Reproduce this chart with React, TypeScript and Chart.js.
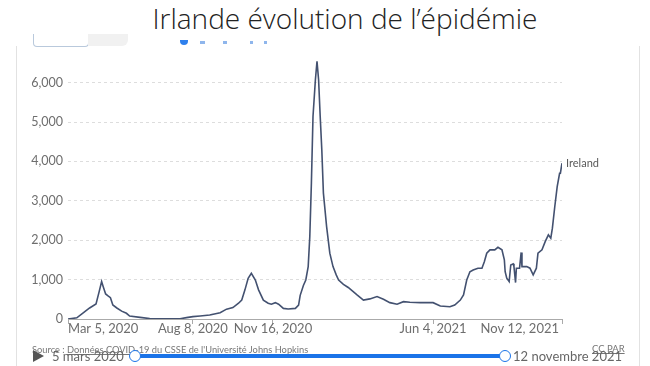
import React, { useEffect, useRef } from "react";
import { Chart, registerables } from "chart.js";

Chart.register(...registerables);

// Days since 5 March 2020
const dayOffsets = [
  0, 11, 21, 27, 35, 39, 42, 44, 47, 50, 53, 56, 61, 67, 73, 77, 90, 102, 121, 140,
  148, 156, 165, 177, 190, 198, 206, 213, 217, 221, 225, 229, 234, 238, 244, 250, 254, 259, 263, 269,
  275, 284, 288, 290, 294, 297, 300, 302, 304, 306, 309, 311, 313, 315, 317, 319, 323, 327, 331, 335,
  338, 344, 350, 361, 369, 377, 386, 394, 402, 411, 419, 427, 440, 456, 465, 477, 483, 490, 494, 498,
  502, 506, 512, 517, 520, 523, 527, 533, 537, 542, 545, 546, 548, 551, 553, 556, 557, 559, 560, 564,
  566, 567, 573, 577, 581, 585, 587, 592, 596, 600, 603, 605, 608, 611, 614, 615, 617,
];

// Daily new confirmed cases (rolling average), Ireland
const cases = [
  0, 30, 190, 280, 380, 700, 950, 820, 635, 585, 540, 355, 280, 200, 145, 75, 42, 10, 5, 5,
  35, 60, 75, 100, 160, 250, 290, 400, 480, 740, 1035, 1160, 990, 740, 480, 400, 375, 415, 375, 270,
  255, 270, 355, 600, 850, 990, 1330, 2090, 3450, 5140, 6075, 6540, 6075, 5140, 4295, 3195, 2345, 1670, 1330, 1120,
  990, 880, 800, 610, 480, 510, 570, 500, 415, 375, 440, 425, 415, 415, 330, 310, 355, 480, 610, 990,
  1200, 1245, 1290, 1290, 1455, 1670, 1755, 1755, 1820, 1755, 1500, 1200, 1035, 950, 1370, 1400, 1330, 925, 1290, 1290,
  1690, 1330, 1330, 1290, 1120, 1290, 1670, 1755, 1965, 2135, 2050, 2305, 2855, 3360, 3700, 3700, 3955,
];

const xTickDays = [0, 156, 256, 456, 617];
const xTickLabels = ["Mar 5, 2020", "Aug 8, 2020", "Nov 16, 2020", "Jun 4, 2021", "Nov 12, 2021"];
const yTickValues = [0, 1000, 2000, 3000, 4000, 5000, 6000];
const seriesName = "Ireland";

const TEXT = "#6e6e6e";
const LINE = "#435170";
const FONT = "Lato, 'Open Sans', sans-serif";

export default function App() {
  const ref = useRef<HTMLCanvasElement | null>(null);

  useEffect(() => {
    document.body.style.margin = "0";
    const canvas = ref.current;
    if (!canvas) return;

    const labelPlugin = {
      id: "owidLabels",
      afterDraw(chart: any) {
        const ctx = chart.ctx;
        const xs = chart.scales.x;
        const ys = chart.scales.y;
        ctx.save();
        ctx.fillStyle = TEXT;
        ctx.font = `13px ${FONT}`;
        ctx.textBaseline = "top";
        xTickDays.forEach((d, i) => {
          const px = xs.getPixelForValue(d);
          if (i === 0) {
            ctx.textAlign = "left";
            ctx.fillText(xTickLabels[i], px, 322);
          } else if (i === xTickDays.length - 1) {
            ctx.textAlign = "right";
            ctx.fillText(xTickLabels[i], px - 3, 322);
          } else {
            ctx.textAlign = "center";
            ctx.fillText(xTickLabels[i], px, 322);
          }
        });
        const last = dayOffsets.length - 1;
        const lx = xs.getPixelForValue(dayOffsets[last]);
        const ly = ys.getPixelForValue(cases[last]);
        ctx.font = `11px ${FONT}`;
        ctx.fillStyle = "#5a5a5a";
        ctx.textAlign = "left";
        ctx.textBaseline = "middle";
        ctx.fillText(seriesName, lx + 4, ly);
        ctx.restore();
      },
    };

    const chart = new Chart(canvas, {
      type: "line",
      data: {
        datasets: [
          {
            label: seriesName,
            data: dayOffsets.map((d, i) => ({ x: d, y: cases[i] })),
            borderColor: LINE,
            borderWidth: 1.6,
            pointRadius: 0,
            tension: 0,
            fill: false,
          },
        ],
      },
      options: {
        animation: false,
        responsive: false,
        maintainAspectRatio: false,
        layout: { padding: { top: 59, right: 88, left: 0, bottom: 0 } },
        plugins: { legend: { display: false }, tooltip: { enabled: false }, title: { display: false } },
        scales: {
          x: {
            type: "linear",
            min: 0,
            max: 617,
            afterBuildTicks: (s: any) => {
              s.ticks = xTickDays.map((v) => ({ value: v }));
            },
            afterFit: (s: any) => {
              s.height = 47;
            },
            ticks: { display: false },
            grid: { display: true, drawOnChartArea: false, drawTicks: true, tickLength: 5, color: "#aaa" },
            border: { display: true, color: "#aaa", width: 1 },
          },
          y: {
            type: "linear",
            min: 0,
            max: 6600,
            afterBuildTicks: (s: any) => {
              s.ticks = yTickValues.map((v) => ({ value: v }));
            },
            afterFit: (s: any) => {
              s.width = 68;
            },
            ticks: {
              padding: 5,
              color: TEXT,
              font: { family: FONT, size: 12.5 },
              callback: (v: any) => Number(v).toLocaleString("en-US"),
            },
            grid: { color: "#dddddd", drawTicks: false, lineWidth: 1 },
            border: { display: false, dash: [3, 3] },
          },
        },
      },
      plugins: [labelPlugin],
    });
    return () => chart.destroy();
  }, []);

  return (
    <div
      style={{
        position: "fixed",
        left: 0,
        top: 0,
        width: 650,
        height: 366,
        background: "#fff",
        overflow: "hidden",
        fontFamily: FONT,
      }}
    >
      <div
        style={{
          position: "absolute",
          left: 0,
          top: -1,
          width: 690,
          textAlign: "center",
          fontFamily: "'Open Sans', sans-serif",
          fontWeight: 300,
          fontSize: 28,
          color: "#222",
          whiteSpace: "nowrap",
        }}
      >
        Irlande évolution de l’épidémie
      </div>
      {/* frame borders */}
      <div style={{ position: "absolute", left: 16, top: 46, width: 1, height: 320, background: "#e2e2e2" }} />
      <div style={{ position: "absolute", left: 639, top: 46, width: 1, height: 320, background: "#e2e2e2" }} />
      {/* cropped tabs at top */}
      <div
        style={{
          position: "absolute",
          left: 33,
          top: 34,
          width: 54,
          height: 12,
          border: "1px solid #b9c9dc",
          borderTop: "none",
          borderRadius: "0 0 4px 4px",
          background: "#fff",
        }}
      />
      <div style={{ position: "absolute", left: 88, top: 34, width: 40, height: 12, background: "#f1f1f1", borderRadius: "0 0 6px 0" }} />
      <div style={{ position: "absolute", left: 180, top: 40, width: 8, height: 5, background: "#2f80ed", borderRadius: "0 0 4px 4px" }} />
      <div style={{ position: "absolute", left: 200, top: 41, width: 5, height: 3, background: "#8fb6ec" }} />
      <div style={{ position: "absolute", left: 223, top: 41, width: 4, height: 3, background: "#8fb6ec" }} />
      <div style={{ position: "absolute", left: 250, top: 41, width: 3, height: 3, background: "#8fb6ec" }} />
      <div style={{ position: "absolute", left: 264, top: 41, width: 3, height: 3, background: "#8fb6ec" }} />

      <canvas
        ref={ref}
        width={650}
        height={366}
        style={{ position: "absolute", left: 0, top: 0, width: 650, height: 366, display: "block" }}
      />

      {/* footer */}
      <div
        style={{
          position: "absolute",
          left: 32,
          top: 344,
          fontSize: 9.3,
          color: "#777",
          whiteSpace: "nowrap",
        }}
      >
        Source : <span style={{ textDecoration: "underline" }}>Données COVID-19 du CSSE de l'Université Johns Hopkins</span>
      </div>
      <div style={{ position: "absolute", left: 592, top: 343, fontSize: 9.5, color: "#777", textDecoration: "underline" }}>
        CC PAR
      </div>
      <div
        style={{
          position: "absolute",
          left: 33,
          top: 350,
          width: 0,
          height: 0,
          borderTop: "6px solid transparent",
          borderBottom: "6px solid transparent",
          borderLeft: "11px solid #555",
        }}
      />
      <div style={{ position: "absolute", left: 52, top: 348, fontSize: 13, color: "#666", whiteSpace: "nowrap" }}>
        5 mars 2020
      </div>
      <div style={{ position: "absolute", left: 135, top: 354, width: 370, height: 4, background: "#1a73e8" }} />
      <div
        style={{
          position: "absolute",
          left: 129,
          top: 350,
          width: 10,
          height: 10,
          borderRadius: "50%",
          background: "#fff",
          border: "1.5px solid #1a73e8",
        }}
      />
      <div
        style={{
          position: "absolute",
          left: 499,
          top: 350,
          width: 10,
          height: 10,
          borderRadius: "50%",
          background: "#fff",
          border: "1.5px solid #1a73e8",
        }}
      />
      <div style={{ position: "absolute", left: 513, top: 348, fontSize: 13, color: "#666", whiteSpace: "nowrap" }}>
        12 novembre 2021
      </div>
    </div>
  );
}
